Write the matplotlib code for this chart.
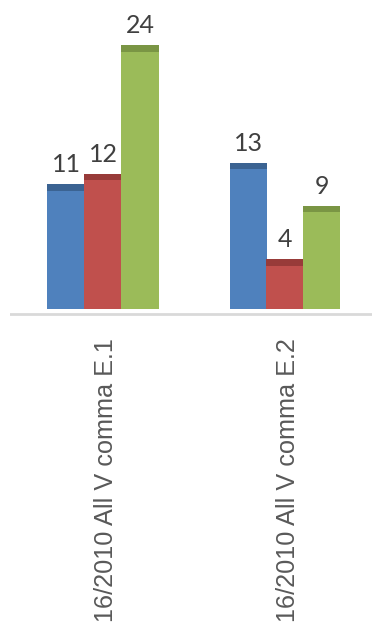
import matplotlib
matplotlib.use("Agg")
import matplotlib.pyplot as plt
import matplotlib.transforms as mtransforms
import numpy as np

categories = ["16/2010 All V comma E.1", "16/2010 All V comma E.2"]
series_a = [11, 13]
series_b = [12, 4]
series_c = [24, 9]

fills = ["#4F81BD", "#C0504D", "#9BBB59"]
caps = ["#3B6392", "#983B39", "#7A9544"]

W, H, DPI = 372, 632, 100
fig = plt.figure(figsize=(W / DPI, H / DPI), dpi=DPI)

# axes geometry in pixels
px_left, px_right = 10, 372
px_zero = 302            # pixel row of value 0
px_per_unit = 10.7
y_low = -1.35
px_bottom = px_zero + (-y_low) * px_per_unit
y_top = px_zero / px_per_unit

ax = fig.add_axes([px_left / W, 1 - px_bottom / H,
                   (px_right - px_left) / W, px_bottom / H])

spacing_px = 182
x0_px = 103
units_left = (x0_px - px_left) / spacing_px
units_right = (px_right - x0_px) / spacing_px
ax.set_xlim(-units_left, units_right)
ax.set_ylim(y_low, y_top)

x = np.arange(len(categories))
bw = 37 / spacing_px
cap_h = 6.5 / px_per_unit
base = -0.65             # bars sit on a short plinth below zero

for i, vals in enumerate([series_a, series_b, series_c]):
    vals = np.array(vals)
    xs = x + (i - 1) * bw
    ax.bar(xs, vals - base, bottom=base, width=bw, color=fills[i],
           linewidth=0, zorder=2)
    ax.bar(xs, [cap_h] * len(vals), bottom=vals - cap_h, width=bw,
           color=caps[i], linewidth=0, zorder=3)
    for xi, v in zip(xs, vals):
        ax.annotate(str(v), (xi, v), xytext=(0, 8.6), textcoords="offset points",
                    ha="center", va="baseline", fontsize=18, color="#404040",
                    family="Lato")

ax.axhline(-1.15, color="#D9D9D9", linewidth=2, zorder=1)

label_tf = mtransforms.blended_transform_factory(ax.transData, fig.transFigure)
for xi, lab in zip(x, categories):
    ax.text(xi + 3 / spacing_px, 1 - 338 / H, lab, transform=label_tf,
            rotation=90, rotation_mode="anchor", ha="right", va="center",
            fontsize=18.2, color="#595959", family="Liberation Sans")

ax.axis("off")
fig.savefig("out.png", dpi=DPI)
